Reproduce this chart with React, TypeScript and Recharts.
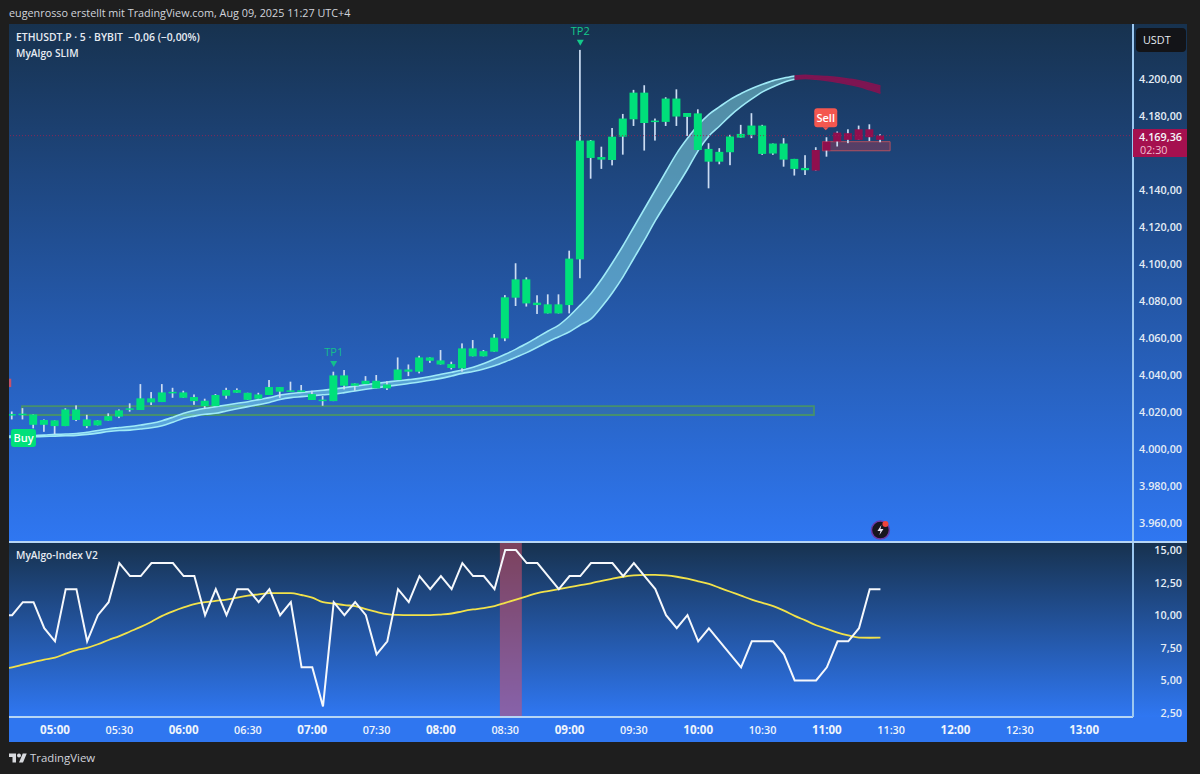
import React from "react";
import {
  ComposedChart, Bar, Area, Line, XAxis, YAxis, ReferenceArea, ReferenceDot, ReferenceLine,
} from "recharts";

const FONT = '"Open Sans", Roboto, sans-serif';

const firstIndex = -4;
const redStart = 71;
const cloudEnd = 69;

const highs = [4020.3,4022.1,4018.7,4016.0,4015.5,4022.0,4023.6,4018.5,4015.5,4019.3,4021.4,4024.7,4035.1,4030.8,4035.1,4033.1,4031.5,4029.5,4027.2,4029.7,4033.1,4032.8,4030.4,4030.4,4037.3,4033.5,4036.4,4034.6,4031.5,4028.6,4041.8,4042.7,4035.5,4039.4,4040.0,4036.7,4049.5,4045.7,4050.4,4049.5,4053.5,4047.2,4057.1,4058.9,4053.5,4062.1,4083.2,4100.4,4092.8,4083.1,4083.6,4083.6,4107.2,4215.7,4167.0,4163.4,4173.5,4181.1,4194.1,4196.6,4178.6,4190.1,4194.4,4181.6,4183.6,4165.3,4162.6,4169.8,4175.2,4181.5,4175.2,4165.1,4168.0,4156.8,4158.8,4163.1,4168.5,4171.6,4172.8,4174.8,4175.5,4170.1];
const lows = [4016.0,4016.0,4011.2,4009.3,4008.1,4012.4,4015.1,4011.3,4012.8,4015.3,4016.7,4020.2,4021.1,4023.8,4025.4,4027.7,4027.7,4023.9,4021.6,4023.2,4027.2,4030.4,4026.6,4027.2,4029.2,4027.7,4031.0,4031.0,4026.5,4023.4,4025.9,4032.2,4031.5,4035.1,4032.8,4031.9,4037.3,4039.4,4040.9,4046.6,4045.7,4043.0,4041.8,4050.1,4050.1,4052.6,4058.3,4077.3,4077.0,4073.0,4073.3,4073.3,4073.3,4092.3,4146.1,4151.4,4153.3,4159.1,4174.6,4161.3,4166.7,4174.6,4174.6,4169.2,4161.6,4140.9,4153.9,4153.4,4168.3,4168.0,4159.0,4159.0,4152.6,4147.8,4148.1,4150.5,4158.0,4163.5,4165.3,4167.1,4166.5,4165.8];
const bodyTops = [4018.9,4019.1,4018.7,4015.7,4015.5,4021.4,4021.4,4016.0,4015.5,4017.8,4020.9,4022.0,4027.4,4027.4,4030.6,4030.9,4030.6,4028.1,4026.1,4029.2,4031.9,4031.9,4030.4,4029.5,4033.5,4033.5,4031.7,4031.7,4029.7,4026.7,4039.8,4039.8,4035.5,4036.9,4036.9,4034.9,4043.0,4043.0,4049.5,4049.5,4047.9,4045.9,4054.4,4054.4,4052.9,4060.2,4082.0,4091.7,4091.7,4079.1,4078.2,4078.2,4102.9,4166.7,4166.7,4157.8,4168.8,4178.6,4192.6,4192.6,4177.5,4189.4,4189.4,4181.6,4181.4,4162.2,4160.6,4168.9,4170.3,4174.8,4174.8,4165.1,4165.1,4156.8,4151.9,4161.6,4166.2,4171.0,4170.7,4172.8,4172.8,4169.4];
const bodyBottoms = [4018.2,4018.5,4013.1,4013.1,4012.4,4012.4,4015.7,4012.4,4012.8,4015.3,4017.5,4021.6,4021.1,4025.2,4025.4,4030.5,4027.7,4025.9,4023.2,4023.2,4028.8,4030.4,4026.6,4027.2,4029.2,4031.0,4031.3,4031.3,4026.5,4026.3,4025.9,4034.2,4034.2,4035.1,4032.8,4032.8,4037.3,4041.8,4041.8,4047.7,4045.7,4043.8,4043.6,4050.1,4050.1,4052.6,4059.8,4081.8,4078.7,4077.8,4073.3,4073.3,4077.8,4102.5,4157.3,4156.4,4156.2,4168.8,4178.2,4176.2,4177.0,4176.8,4179.7,4179.5,4161.6,4155.3,4155.3,4160.4,4168.3,4169.8,4159.5,4159.7,4156.4,4151.4,4150.7,4150.5,4161.3,4166.2,4167.1,4167.1,4168.5,4167.1];

const cloudUpper = [4007.0,4007.1,4007.2,4007.5,4007.9,4008.1,4008.4,4009.1,4010.0,4011.0,4011.6,4012.2,4013.0,4013.9,4015.3,4017.2,4019.3,4020.8,4022.0,4022.9,4023.8,4024.7,4025.6,4026.7,4027.8,4029.2,4030.0,4030.6,4031.2,4031.8,4032.4,4033.2,4034.0,4034.8,4035.5,4036.2,4036.9,4037.5,4038.2,4039.2,4040.4,4041.5,4042.7,4044.2,4046.2,4048.6,4051.2,4054.0,4057.0,4060.4,4063.8,4067.0,4071.9,4077.8,4084.1,4091.9,4100.7,4110.0,4120.0,4130.0,4140.0,4150.0,4159.8,4167.9,4175.1,4180.9,4185.0,4189.0,4192.1,4194.8,4197.1,4199.1,4200.5,4201.6];
const cloudLower = [4006.3,4006.4,4006.6,4006.8,4007.0,4007.2,4007.4,4007.9,4008.6,4009.5,4010.0,4010.2,4010.8,4011.5,4012.6,4014.5,4016.6,4017.8,4018.8,4019.3,4020.6,4021.8,4022.9,4024.0,4025.2,4026.8,4027.8,4028.3,4028.8,4029.3,4029.7,4030.5,4031.4,4032.3,4033.1,4033.9,4034.6,4035.4,4036.2,4037.2,4038.2,4039.5,4040.9,4041.9,4043.2,4045.0,4047.2,4049.6,4052.1,4055.0,4058.0,4060.7,4063.4,4067.0,4070.3,4076.9,4084.5,4093.2,4103.1,4113.0,4123.4,4132.8,4141.8,4151.2,4161.3,4169.2,4174.6,4180.2,4185.0,4189.2,4193.0,4195.8,4198.2,4199.8];
const sellUpper = [4201.6,4202.0,4201.6,4201.3,4200.8,4200.0,4199.1,4197.7,4196.2];
const sellLower = [4199.8,4200.2,4199.8,4199.1,4198.2,4197.1,4195.9,4194.1,4192.3];

const indexLine = [10,11,11,9,8,12,12,8,10,11,14,13,13,14,14,14,13,13,10,12,10,12,12,11,12,10,11,6,6,3,11,10,11,10,7,8,12,11,13,12,13,12,14,13,13,12,15,15,14,14,13,12,13,13,14,14,14,13,14,13,12,10,9,10,8,9,8,7,6,8,8,8,7,5,5,5,6,8,8,9,12,12];
const signalLine = [6.0,6.2,6.4,6.6,6.74,7.05,7.33,7.5,7.77,8.1,8.4,8.75,9.1,9.5,9.95,10.3,10.6,10.85,11.0,11.1,11.2,11.35,11.5,11.6,11.7,11.7,11.7,11.55,11.35,11.0,10.9,10.77,10.7,10.46,10.25,10.08,10.02,10.0,10.0,10.0,10.05,10.13,10.3,10.44,10.55,10.7,10.95,11.2,11.45,11.7,11.85,12.0,12.15,12.3,12.45,12.64,12.8,12.95,13.05,13.1,13.1,13.05,12.95,12.8,12.6,12.4,12.1,11.8,11.5,11.2,10.95,10.7,10.35,9.95,9.6,9.23,8.95,8.67,8.45,8.28,8.27,8.28];

const priceTicks = [3960,3980,4000,4020,4040,4060,4080,4100,4120,4140,4180,4200];
const indexTicks = [2.5,5,7.5,10,12.5,15];
const timeLabels = ["05:00","05:30","06:00","06:30","07:00","07:30","08:00","08:30","09:00","09:30","10:00","10:30","11:00","11:30","12:00","12:30","13:00"];
const timeTicks = timeLabels.map((_, k) => k * 6);

const xDomain: [number, number] = [-4.29, 100.56];

// one bar earlier than the first visible candle: only the lines and the cloud reach it, clipped at the pane edge
const leadRow = { x: firstIndex - 1, range: null, cloud: [4006.2, 4006.9], sell: null, index: 10, signal: 5.85 };

const table = [leadRow as any].concat(highs.map((high, k) => {
  const x = firstIndex + k;
  return {
    x,
    range: [lows[k], high],
    high, low: lows[k], top: bodyTops[k], bottom: bodyBottoms[k],
    cloud: x <= cloudEnd ? [cloudLower[k], cloudUpper[k]] : null,
    sell: x >= cloudEnd ? [sellLower[x - cloudEnd], sellUpper[x - cloudEnd]] : null,
    index: indexLine[k],
    signal: signalLine[k],
  };
}));

const fmt = (v: number) =>
  v.toLocaleString("de-DE", { minimumFractionDigits: 2, maximumFractionDigits: 2 });

const Candle = (p: any) => {
  const { x, y, width, height, payload } = p;
  if (payload.high === undefined) return null;
  const k = height / (payload.high - payload.low);
  const topY = y + (payload.high - payload.top) * k;
  const h = Math.max((payload.top - payload.bottom) * k, 1.5);
  const cx = x + width / 2;
  const color = payload.x >= redStart ? "#8f0f4e" : "#00e07a";
  return (
    <g>
      <rect x={cx - 0.85} y={y} width={1.7} height={height} fill="#cbdcf2" />
      <rect x={x} y={topY} width={width} height={h} fill={color} />
    </g>
  );
};

const AxisTick = (p: any) => (
  <text x={1182} y={p.y} dy={4} textAnchor="end" fontFamily={FONT} fontSize={10.8} fontWeight={600} fill="#e4ecf5">
    {fmt(p.payload.value)}
  </text>
);

const TimeTick = (p: any) => {
  const label = timeLabels[timeTicks.indexOf(p.payload.value)];
  const onHour = label.endsWith(":00");
  return (
    <text x={p.x} y={p.y} dy={9} textAnchor="middle" fontFamily={FONT} fontSize={onHour ? 11.6 : 10.8} fontWeight={onHour ? 700 : 600} fill="#eef4fb">
      {label}
    </text>
  );
};

const Pill = (label: string, fill: string, w: number, h: number, pointer: boolean) => (p: any) => (
  <g>
    <rect x={p.cx - w / 2} y={p.cy - h / 2} width={w} height={h} rx={3} fill={fill} />
    {pointer && <polygon points={`${p.cx - 3},${p.cy + h / 2} ${p.cx + 3},${p.cy + h / 2} ${p.cx},${p.cy + h / 2 + 3}`} fill={fill} />}
    <text x={p.cx} y={p.cy + 4} textAnchor="middle" fontFamily={FONT} fontSize={11} fontWeight={600} fill="#fff">{label}</text>
  </g>
);

const TakeProfit = (label: string, color: string) => (p: any) => (
  <g>
    <polygon points={`${p.cx - 3.5},${p.cy - 3} ${p.cx + 3.5},${p.cy - 3} ${p.cx},${p.cy + 3}`} fill={color} />
    <text x={p.cx} y={p.cy - 8} textAnchor="middle" fontFamily={FONT} fontSize={11} fill={color}>{label}</text>
  </g>
);

const Bolt = (p: any) => (
  <g>
    <circle cx={p.cx} cy={p.cy} r={9} fill="#17151f" stroke="#6d3aa8" strokeWidth={1.5} />
    <path d={`M${p.cx + 1} ${p.cy - 5} L${p.cx - 3} ${p.cy + 1} L${p.cx} ${p.cy + 1} L${p.cx - 1} ${p.cy + 5} L${p.cx + 3} ${p.cy - 1} L${p.cx} ${p.cy - 1} Z`} fill="#e9e4f5" />
    <circle cx={p.cx + 5} cy={p.cy - 6} r={3} fill="#f0433a" />
  </g>
);

const paneBg = "linear-gradient(180deg,#17324f 0%,#2f77f2 100%)";
const textStyle: React.CSSProperties = { position: "absolute", fontFamily: FONT, fontSize: 10.2, fontWeight: 600, color: "#e6ebf2", whiteSpace: "pre" };

export default function App() {
  return (
    <div style={{ position: "absolute", left: 0, top: 0, width: 1200, height: 774, background: "#1e1e1e", overflow: "hidden" }}>
      <div style={{ ...textStyle, left: 9, top: 5, fontWeight: 400, fontSize: 10.8, color: "#d1d4dc" }}>
        eugenrosso erstellt mit TradingView.com, Aug 09, 2025 11:27 UTC+4
      </div>

      <div style={{ position: "absolute", left: 9, top: 24, width: 1178, height: 518, background: paneBg }} />
      <div style={{ position: "absolute", left: 9, top: 543, width: 1178, height: 174, background: paneBg }} />
      <div style={{ position: "absolute", left: 9, top: 717, width: 1178, height: 25, background: "#2f76f0" }} />

      <div style={{ position: "absolute", left: 0, top: 24 }}>
        <ComposedChart width={1187} height={517} data={table} margin={{ top: 0, right: 0, bottom: 0, left: 9 }}>
          <XAxis dataKey="x" type="number" domain={xDomain} allowDataOverflow hide />
          <YAxis orientation="right" width={54} domain={[3950.3, 4229.7]} allowDataOverflow ticks={priceTicks} interval={0}
            tick={AxisTick} tickLine={false} axisLine={{ stroke: "#9cc8f0", strokeWidth: 2 }} />
          <ReferenceArea x1={-3.08} x2={70.8} y1={4018.4} y2={4023.2} fill="#4f8f5a" fillOpacity={0.2} stroke="#46906e" strokeWidth={1.8} />
          <ReferenceArea x1={-4.29} x2={-4.08} y1={4033.5} y2={4038} fill="#d8505f" fillOpacity={0.9} />
          <ReferenceLine y={4169.36} stroke="#a02050" strokeDasharray="1 2" strokeOpacity={0.8} />
          <Bar dataKey="range" barSize={8} shape={Candle} isAnimationActive={false} />
          <ReferenceArea x1={71.6} x2={77.9} y1={4161.2} y2={4166.1} fill="#b03a50" fillOpacity={0.4} stroke="#b05060" strokeWidth={1} />
          <Area dataKey="cloud" type="monotone" stroke="#9feaf7" strokeWidth={1.6} fill="#8fe8ec" fillOpacity={0.48} isAnimationActive={false} dot={false} activeDot={false} />
          <Area dataKey="sell" type="monotone" stroke="#7d1552" strokeWidth={1.5} fill="#7d1552" fillOpacity={1} isAnimationActive={false} dot={false} activeDot={false} />
          <ReferenceDot x={-2.94} y={4006} r={1} shape={Pill("Buy", "#00e07a", 25, 18, false)} />
          <ReferenceDot x={71.9} y={4179} r={1} shape={Pill("Sell", "#f4574f", 23, 19, true)} />
          <ReferenceDot x={26} y={4045.9} r={1} shape={TakeProfit("TP1", "#14bf8c")} />
          <ReferenceDot x={49} y={4219.5} r={1} shape={TakeProfit("TP2", "#14c98a")} />
          <ReferenceDot x={77} y={3956.2} r={1} shape={Bolt} />
        </ComposedChart>
      </div>

      <div style={{ position: "absolute", left: 9, top: 541, width: 1178, height: 2, background: "#b6d6f5" }} />

      <div style={{ position: "absolute", left: 0, top: 533 }}>
        <ComposedChart width={1187} height={209} data={table} margin={{ top: 10, right: 0, bottom: 0, left: 9 }}>
          <XAxis dataKey="x" type="number" domain={xDomain} allowDataOverflow height={25} ticks={timeTicks} interval={0}
            tick={TimeTick} tickLine={false} axisLine={{ stroke: "#b6d6f5", strokeWidth: 2 }} />
          <YAxis orientation="right" width={54} domain={[2.19, 15.54]} allowDataOverflow ticks={indexTicks} interval={0}
            tick={AxisTick} tickLine={false} axisLine={{ stroke: "#9cc8f0", strokeWidth: 2 }} />
          <ReferenceArea x1={41.5} x2={43.55} fill="#d8506a" fillOpacity={0.52} />
          <Line dataKey="signal" type="monotone" stroke="#f2e24a" strokeWidth={1.8} dot={false} activeDot={false} isAnimationActive={false} />
          <Line dataKey="index" type="linear" stroke="#f5f8fc" strokeWidth={2} dot={false} activeDot={false} isAnimationActive={false} />
        </ComposedChart>
      </div>

      <div style={{ ...textStyle, left: 16, top: 30, fontSize: 10.4 }}>ETHUSDT.P · 5 · BYBIT  −0,06 (−0,00%)</div>
      <div style={{ ...textStyle, left: 16, top: 46 }}>MyAlgo SLIM</div>
      <div style={{ ...textStyle, left: 16, top: 548 }}>MyAlgo-Index V2</div>

      <div style={{ ...textStyle, left: 1136, top: 28, width: 50, height: 24, lineHeight: "24px", background: "#131418", borderRadius: 4, fontSize: 10.8, fontWeight: 400, paddingLeft: 7, boxSizing: "border-box" }}>USDT</div>

      <div style={{ position: "absolute", left: 1133, top: 129, width: 54, height: 28, background: "#a5104f" }} />
      <div style={{ ...textStyle, left: 1133, width: 49, textAlign: "right", top: 129, fontSize: 10.8, color: "#f4f6fa" }}>4.169,36</div>
      <div style={{ ...textStyle, left: 1140, top: 142, fontSize: 10.8, fontWeight: 400, color: "#f0bfd2" }}>02:30</div>

      <svg style={{ position: "absolute", left: 9, top: 753 }} width={18} height={10} viewBox="0 4 36 18">
        <path d="M14 22H7V11H0V4h14v18zM28 22h-8l7.5-18h8L28 22z" fill="#d8dade" />
        <circle cx={20} cy={8} r={4} fill="#d8dade" />
      </svg>
      <div style={{ ...textStyle, left: 30, top: 750, fontSize: 11.4, fontWeight: 400, color: "#d1d4dc" }}>TradingView</div>
    </div>
  );
}
